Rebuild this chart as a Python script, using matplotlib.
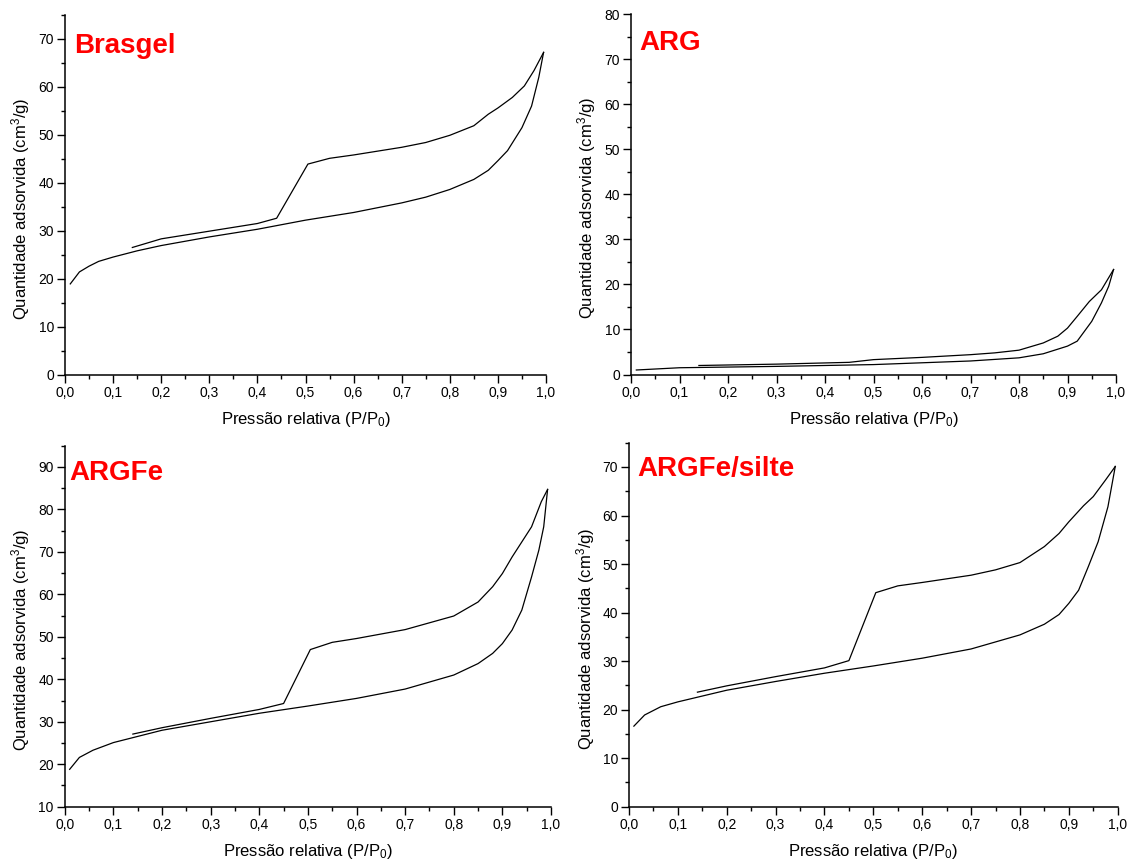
import matplotlib
matplotlib.use("Agg")
import matplotlib.pyplot as plt
from matplotlib.ticker import MultipleLocator, FuncFormatter

plt.rcParams['font.family'] = ['Liberation Sans', 'DejaVu Sans']
plt.rcParams['mathtext.default'] = 'regular'

# Brasgel
brasgel_ads_x = [0.011, 0.03, 0.05, 0.07, 0.1, 0.15, 0.2, 0.3, 0.4, 0.5, 0.6, 0.7, 0.75, 0.8, 0.85,
                 0.88, 0.9, 0.92, 0.95, 0.97, 0.985, 0.995]
brasgel_ads_y = [18.9, 21.4, 22.6, 23.6, 24.5, 25.8, 26.9, 28.7, 30.3, 32.2, 33.8, 35.8, 37.0, 38.6, 40.7,
                 42.6, 44.6, 46.7, 51.5, 56.0, 62.0, 67.2]
brasgel_des_x = [0.995, 0.975, 0.955, 0.93, 0.9, 0.88, 0.85, 0.8, 0.75, 0.7, 0.6, 0.55, 0.505,
                 0.44, 0.4, 0.3, 0.2, 0.14]
brasgel_des_y = [67.2, 63.4, 60.2, 57.8, 55.6, 54.3, 51.9, 49.9, 48.4, 47.4, 45.8, 45.1, 43.9,
                 32.6, 31.5, 29.9, 28.3, 26.5]

# ARG
arg_ads_x = [0.011, 0.1, 0.3, 0.5, 0.7, 0.8, 0.85, 0.9, 0.92, 0.95, 0.97, 0.985, 0.995]
arg_ads_y = [1.0, 1.5, 1.8, 2.2, 3.0, 3.7, 4.6, 6.3, 7.4, 11.8, 15.9, 19.6, 23.3]
arg_des_x = [0.995, 0.97, 0.945, 0.92, 0.9, 0.88, 0.85, 0.8, 0.75, 0.7, 0.6, 0.5, 0.45, 0.3, 0.14]
arg_des_y = [23.3, 18.8, 16.2, 12.9, 10.3, 8.5, 7.0, 5.4, 4.8, 4.4, 3.8, 3.3, 2.7, 2.3, 2.0]

# ARGFe
argfe_ads_x = [0.01, 0.03, 0.058, 0.1, 0.2, 0.3, 0.4, 0.5, 0.6, 0.7, 0.8, 0.85, 0.88, 0.9, 0.92,
               0.94, 0.96, 0.975, 0.985, 0.993]
argfe_ads_y = [18.8, 21.6, 23.3, 25.1, 28.0, 30.0, 32.0, 33.7, 35.5, 37.7, 41.0, 43.7, 46.1, 48.4, 51.6,
               56.3, 64.1, 70.4, 75.9, 84.7]
argfe_des_x = [0.993, 0.98, 0.96, 0.92, 0.9, 0.88, 0.85, 0.8, 0.7, 0.6, 0.55, 0.505, 0.45, 0.4,
               0.3, 0.2, 0.14]
argfe_des_y = [84.7, 81.8, 75.9, 68.8, 64.9, 61.8, 58.2, 54.9, 51.7, 49.6, 48.7, 47.0, 34.3, 32.9,
               30.8, 28.6, 27.1]

# ARGFe/silte
silte_ads_x = [0.01, 0.032, 0.065, 0.1, 0.2, 0.3, 0.4, 0.5, 0.6, 0.7, 0.8, 0.85, 0.88, 0.9, 0.92,
               0.94, 0.96, 0.98, 0.995]
silte_ads_y = [16.6, 18.9, 20.6, 21.6, 24.0, 25.8, 27.5, 29.0, 30.6, 32.5, 35.4, 37.6, 39.6, 41.9, 44.6,
               49.5, 54.6, 61.8, 70.1]
silte_des_x = [0.995, 0.975, 0.95, 0.93, 0.9, 0.88, 0.85, 0.8, 0.75, 0.7, 0.6, 0.55, 0.505, 0.45,
               0.4, 0.3, 0.2, 0.14]
silte_des_y = [70.1, 67.3, 63.9, 62.0, 58.7, 56.3, 53.6, 50.3, 48.8, 47.7, 46.2, 45.5, 44.1, 30.1,
               28.6, 26.8, 24.9, 23.6]

# axes boxes in pixels: left, right, top, bottom; title pos; y label x
panels = [
    ("Brasgel", brasgel_ads_x, brasgel_ads_y, brasgel_des_x, brasgel_des_y, (0, 75),
     (65, 546, 15, 374.5), (74, 53), 32),
    ("ARG", arg_ads_x, arg_ads_y, arg_des_x, arg_des_y, (0, 80),
     (631, 1116, 14, 374.5), (639, 50), 598),
    ("ARGFe", argfe_ads_x, argfe_ads_y, argfe_des_x, argfe_des_y, (10, 95),
     (64.8, 551, 445.7, 806.7), (69.5, 480), 32),
    ("ARGFe/silte", silte_ads_x, silte_ads_y, silte_des_x, silte_des_y, (0, 75),
     (629, 1117.7, 442.7, 806.7), (637, 476), 597),
]

W, H = 1131, 864
comma = FuncFormatter(lambda v, pos: ("%.1f" % v).replace(".", ","))

fig = plt.figure(figsize=(W / 100, H / 100), dpi=100)

for name, ax_x, ax_y, dx, dy, ylim, box, tpix, ylab_x in panels:
    l, r, t, b = box
    ax = fig.add_axes([l / W, (H - b) / H, (r - l) / W, (b - t) / H])
    ax.plot(ax_x, ax_y, color='black', lw=0.9)
    ax.plot(dx, dy, color='black', lw=0.9)
    ax.set_xlim(0, 1.0)
    ax.set_ylim(*ylim)
    for s in ['top', 'right']:
        ax.spines[s].set_visible(False)
    ax.spines['left'].set_linewidth(1.1)
    ax.spines['bottom'].set_linewidth(1.1)
    ax.xaxis.set_major_locator(MultipleLocator(0.1))
    ax.xaxis.set_minor_locator(MultipleLocator(0.05))
    ax.yaxis.set_major_locator(MultipleLocator(10))
    ax.yaxis.set_minor_locator(MultipleLocator(5))
    ax.xaxis.set_major_formatter(comma)
    ax.tick_params(which='major', direction='out', length=5.5, width=1.0, labelsize=10, pad=2.5)
    ax.tick_params(which='minor', direction='out', length=3.2, width=1.0)
    ax.set_xlabel("Pressão relativa (P/P$_0$)", fontsize=12)
    ax.set_ylabel("Quantidade adsorvida (cm$^3$/g)", fontsize=12)
    ax.xaxis.set_label_coords(0.5, -35.5 / (b - t))
    ax.yaxis.set_label_coords((ylab_x - l) / (r - l), 0.5 - 14 / (b - t))
    ax.text((tpix[0] - l) / (r - l), (b - tpix[1]) / (b - t), name, transform=ax.transAxes,
            color='red', fontsize=20, fontweight='bold', va='baseline', ha='left')

fig.savefig("out.png", dpi=100)
